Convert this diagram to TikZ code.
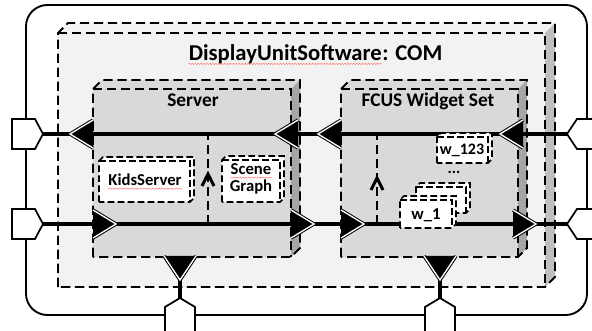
\documentclass[tikz,border=0pt]{standalone}
\usepackage{fontspec}
\setmainfont{Carlito}
\usetikzlibrary{decorations.pathmorphing}
% x1 y1 x2 y2 depth frontfill sidefill linestyle
\newcommand\cuboid[8]{%
  \fill[#6] (#1,#2) rectangle (#3,#4);
  \fill[#6] (#1,#2) -- ({#1+#5},{#2-#5}) -- ({#3+#5},{#2-#5}) -- (#3,#2) -- cycle;
  \fill[#7] (#3,#2) -- ({#3+#5},{#2-#5}) -- ({#3+#5},{#4-#5}) -- (#3,#4) -- cycle;
  \draw[#8] (#1,#4) -- (#1,#2) -- ({#1+#5},{#2-#5}) -- ({#3+#5},{#2-#5}) -- ({#3+#5},{#4-#5}) -- (#3,#4) -- cycle;
  \draw[#8] (#1,#2) -- (#3,#2) -- (#3,#4);
}
\begin{document}
\begin{tikzpicture}[x=0.75pt,y=-0.75pt,
  mainline/.style={line width=2.3pt},
  bigdash/.style={line width=1.4pt, dash pattern=on 7pt off 3.5pt},
  smalldash/.style={line width=1.3pt, dash pattern=on 5pt off 2.5pt},
  vdash/.style={line width=2.2pt, dash pattern=on 7pt off 3.5pt},
  chev/.style={line width=2.2pt, line join=miter},
  portshape/.style={fill=white, draw=black, line width=1.3pt, line join=miter},
  tipline/.style={draw=black, double=white, double distance=1pt, line width=0.75pt, line join=miter, miter limit=10},
  lbl/.style={inner sep=0pt, anchor=base},
  squig/.style={draw=red!55, line width=0.35pt, decorate, decoration={snake, amplitude=0.45pt, segment length=2.2pt}},
  larr/.pic={\fill (0,-14) -- (-23,0) -- (0,14) -- cycle; \draw[tipline] (0,-14) -- (-23,0) -- (0,14);},
  rarr/.pic={\fill (0,-14) -- (23,0) -- (0,14) -- cycle; \draw[tipline] (0,-14) -- (23,0) -- (0,14);},
  darr/.pic={\fill (-16,0) -- (0,24) -- (16,0) -- cycle; \draw[tipline] (-16,0) -- (0,24) -- (16,0);},
]
\useasboundingbox (0,0) rectangle (592,331);
\clip (0,0) rectangle (592,331);
\fill[white] (0,0) rectangle (592,331);

% outer component frame
\draw[line width=1.4pt, rounded corners=16pt] (26,5) rectangle (587,315);

% 3D boxes
\cuboid{58}{33}{545}{287}{10}{fill=gray!10}{fill=gray!50}{bigdash}
\cuboid{93}{89}{291}{257}{9}{fill=gray!30}{fill=gray!70}{bigdash}
\cuboid{341}{89}{518}{257}{9}{fill=gray!30}{fill=gray!70}{bigdash}

% titles
\node[lbl, anchor=base east, font=\fontsize{17}{20}\selectfont\bfseries] (title) at (382,61) {DisplayUnitSoftware};
\node[lbl, anchor=base west, font=\fontsize{17}{20}\selectfont\bfseries] (titlecom) at (title.base east) {: COM};
\draw[squig] ([yshift=-2.2pt]title.base west) -- ([yshift=-2.2pt]title.base east);
\node[lbl, font=\fontsize{14.5}{17}\selectfont\bfseries] (server) at (193,107) {Server};
\node[lbl, font=\fontsize{14.5}{17}\selectfont\bfseries] (fcus) at (428,107) {FCUS Widget Set};

% port coordinates
\coordinate (pL1) at (43,134);
\coordinate (pR1) at (567,134);
\coordinate (pL2) at (43,224);
\coordinate (pR2) at (567,224);
\coordinate (dS) at (180,280);
\coordinate (pB1) at (180,298);
\coordinate (dF) at (440,280);
\coordinate (pB2) at (440,298);

% main connectors
\draw[mainline] (pL1) -- (pR1);
\draw[mainline] (pL2) -- (pR2);
\draw[mainline] (dS) -- (pB1);
\draw[mainline] (dF) -- (pB2);

% internal dependency lines
\coordinate (sT) at (208,134);
\coordinate (sB) at (208,224);
\draw[vdash] (sB) -- (sT);
\draw[chev] (202,186) -- (208,174) -- (214,186);
\coordinate (fT) at (377,134);
\coordinate (fB) at (377,224);
\draw[vdash] (fB) -- (fT);
\draw[chev] (371,190) -- (377,178) -- (383,190);

% arrowheads on box borders
\pic at (93,134) {larr};
\pic at (298,134) {larr};
\pic at (341,134) {larr};
\pic at (523,134) {larr};
\pic at (93,224) {rarr};
\pic at (291,224) {rarr};
\pic at (341,224) {rarr};
\pic at (513,224) {rarr};
\pic at (180,256) {darr};
\pic at (440,256) {darr};

% inner parts
\cuboid{99}{161}{190}{202}{4}{fill=white}{fill=white}{smalldash}
\node[lbl, font=\fontsize{12.5}{15}\selectfont\bfseries] (kids) at (145,186) {KidsServer};
\draw[squig] ([yshift=-2pt]kids.base west) -- ([yshift=-2pt]kids.base east);
\cuboid{222}{160}{280}{202}{4}{fill=white}{fill=white}{smalldash}
\node[lbl, font=\fontsize{12.5}{15}\selectfont\bfseries] (scene) at (251,175) {Scene};
\node[lbl, font=\fontsize{12.5}{15}\selectfont\bfseries] (graph) at (251,192) {Graph};
\draw[squig] ([yshift=-2pt]scene.base west) -- ([yshift=-2pt]scene.base east);
\cuboid{437}{137}{488}{163}{4}{fill=white}{fill=white}{smalldash}
\node[lbl, font=\fontsize{12}{14}\selectfont\bfseries] (w123) at (462,155) {w\_123};
\node[lbl, font=\fontsize{12}{14}\selectfont\bfseries] (dots) at (454,174) {...};
\cuboid{416}{187}{466}{213}{4}{fill=white}{fill=white}{smalldash}
\cuboid{400}{200}{452}{228}{4}{fill=white}{fill=white}{smalldash}
\node[lbl, font=\fontsize{12.5}{14}\selectfont\bfseries] (w1) at (426,220) {w\_1};

% ports
\draw[portshape] (12,119) -- (35,119) -- (pL1) -- (35,149) -- (12,149) -- cycle;
\draw[portshape] (12,209) -- (35,209) -- (pL2) -- (35,239) -- (12,239) -- cycle;
\draw[portshape] (605,119) -- (577,119) -- (pR1) -- (577,149) -- (605,149) -- cycle;
\draw[portshape] (605,209) -- (577,209) -- (pR2) -- (577,239) -- (605,239) -- cycle;
\draw[portshape] (165,340) -- (165,307) -- (pB1) -- (195,307) -- (195,340) -- cycle;
\draw[portshape] (425,340) -- (425,307) -- (pB2) -- (455,307) -- (455,340) -- cycle;
\end{tikzpicture}
\end{document}
